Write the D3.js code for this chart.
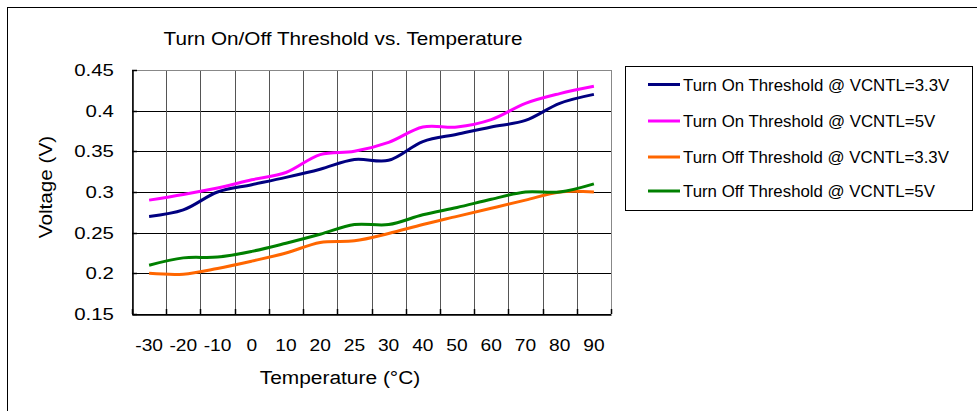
<!DOCTYPE html>
<html><head><meta charset="utf-8">
<script src="https://cdn.jsdelivr.net/npm/d3@7"></script>
<style>body{margin:0;background:#fff}svg{display:block}text{font-family:"Liberation Sans",Arial,sans-serif;fill:#000}</style>
</head><body><svg id="c" width="977" height="411"></svg>
<script>
const categories = ["-30","-20","-10","0","10","20","25","30","40","50","60","70","80","90"];
const onV33  = [0.270,0.278,0.300,0.309,0.318,0.328,0.340,0.339,0.362,0.371,0.380,0.388,0.409,0.420];
const onV5   = [0.290,0.297,0.305,0.315,0.324,0.346,0.350,0.361,0.380,0.380,0.389,0.409,0.421,0.430];
const offV33 = [0.200,0.199,0.206,0.215,0.225,0.238,0.240,0.249,0.260,0.270,0.280,0.290,0.300,0.300];
const offV5  = [0.210,0.219,0.220,0.227,0.237,0.248,0.260,0.260,0.272,0.281,0.291,0.300,0.300,0.310];
const yTicks = [0.15,0.2,0.25,0.3,0.35,0.4,0.45];
const seriesNames = ["Turn On Threshold @ VCNTL=3.3V","Turn On Threshold @ VCNTL=5V","Turn Off Threshold @ VCNTL=3.3V","Turn Off Threshold @ VCNTL=5V"];
const seriesColors = ["#000080","#ff00ff","#ff6600","#008000"];
const seriesData = [onV33, onV5, offV33, offV5];

const svg = d3.select("#c");
svg.append("rect").attr("x",7.5).attr("y",7.5).attr("width",1000).attr("height",1000).attr("fill","none").attr("stroke","#000").attr("stroke-width",1);

const L=132, R=611, T=70, B=314;
const x = d3.scaleBand().domain(categories).range([L,R]);
const y = d3.scaleLinear().domain([0.15,0.45]).range([B,T]);

function stext(parent, str, tx, ty, size, sx, anchor, rot){
  return parent.append("text")
    .attr("transform", `translate(${tx},${ty})` + (rot?` rotate(${rot})`:"") + ` scale(${sx},1)`)
    .attr("text-anchor", anchor).style("font-size", size+"px").text(str);
}

// gridlines
svg.append("g").selectAll("line").data(yTicks).join("line")
  .attr("x1",L).attr("x2",R).attr("y1",d=>Math.round(y(d))+0.5).attr("y2",d=>Math.round(y(d))+0.5)
  .attr("stroke","#000").attr("stroke-width",1);
const bounds = categories.map(c=>x(c)).concat([R]);
svg.append("g").selectAll("line").data(bounds).join("line")
  .attr("x1",d=>Math.round(d)+0.5).attr("x2",d=>Math.round(d)+0.5).attr("y1",T).attr("y2",B)
  .attr("stroke","#555").attr("stroke-width",1);
svg.append("line").attr("x1",L).attr("x2",R).attr("y1",T+0.5).attr("y2",T+0.5).attr("stroke","#888");
svg.append("line").attr("x1",R+0.5).attr("x2",R+0.5).attr("y1",T).attr("y2",B).attr("stroke","#888");

// axes (domain + inside ticks via d3 axis)
const yAxis = d3.axisLeft(y).tickValues(yTicks).tickSize(0).tickFormat("");
const gy = svg.append("g").attr("transform",`translate(${L+0.5},0)`).call(yAxis);
gy.select(".domain").attr("stroke","#000").attr("stroke-width",1.5);
svg.append("g").selectAll("line").data(yTicks).join("line")
  .attr("x1",L).attr("x2",L+5).attr("y1",d=>Math.round(y(d))+0.5).attr("y2",d=>Math.round(y(d))+0.5).attr("stroke","#000").attr("stroke-width",1.5);
const ytl = svg.append("g");
yTicks.forEach(v=>stext(ytl, String(+v.toFixed(2)), 114, y(v)+6, 16.5, 1.24, "end"));

const xAxis = d3.axisBottom(x).tickSize(0).tickFormat("");
const gx = svg.append("g").attr("transform",`translate(0,${B+0.5})`).call(xAxis);
gx.select(".domain").attr("stroke","#000").attr("stroke-width",1.5);
svg.append("g").selectAll("line").data(bounds).join("line")
  .attr("x1",d=>Math.round(d)+0.5).attr("x2",d=>Math.round(d)+0.5).attr("y1",B-5).attr("y2",B).attr("stroke","#000").attr("stroke-width",1.5);
const xtl = svg.append("g");
categories.forEach(c=>stext(xtl, c, x(c)+x.bandwidth()/2, 351, 17, 1.13, "middle"));

// lines
const line = d3.line().x((d,i)=>x(categories[i])+x.bandwidth()/2).y(d=>y(d)).curve(d3.curveCatmullRom.alpha(0.5));
svg.append("g").selectAll("path").data(seriesData).join("path")
  .attr("d",d=>line(d)).attr("fill","none").attr("stroke",(d,i)=>seriesColors[i]).attr("stroke-width",3)
  .attr("stroke-linejoin","round").attr("stroke-linecap","butt");

// titles
stext(svg, "Turn On/Off Threshold vs. Temperature", 343, 45, 18, 1.15, "middle");
stext(svg, "Temperature (°C)", 340, 384, 19, 1.1, "middle");
stext(svg, "Voltage (V)", 52, 187, 18.5, 1.12, "middle", -90);

// legend
svg.append("rect").attr("x",625.5).attr("y",66.5).attr("width",347).attr("height",144).attr("fill","#fff").attr("stroke","#000");
const rowsY = [84.5,121,157,191];
const lg = svg.append("g").selectAll("g").data(seriesNames).join("g").attr("transform",(d,i)=>`translate(0,${rowsY[i]})`);
lg.append("line").attr("x1",648).attr("x2",680).attr("y1",0).attr("y2",0).attr("stroke",(d,i)=>seriesColors[i]).attr("stroke-width",3);
lg.each(function(d){ stext(d3.select(this), d, 683, 6, 17, 0.99, "start"); });
</script></body></html>
